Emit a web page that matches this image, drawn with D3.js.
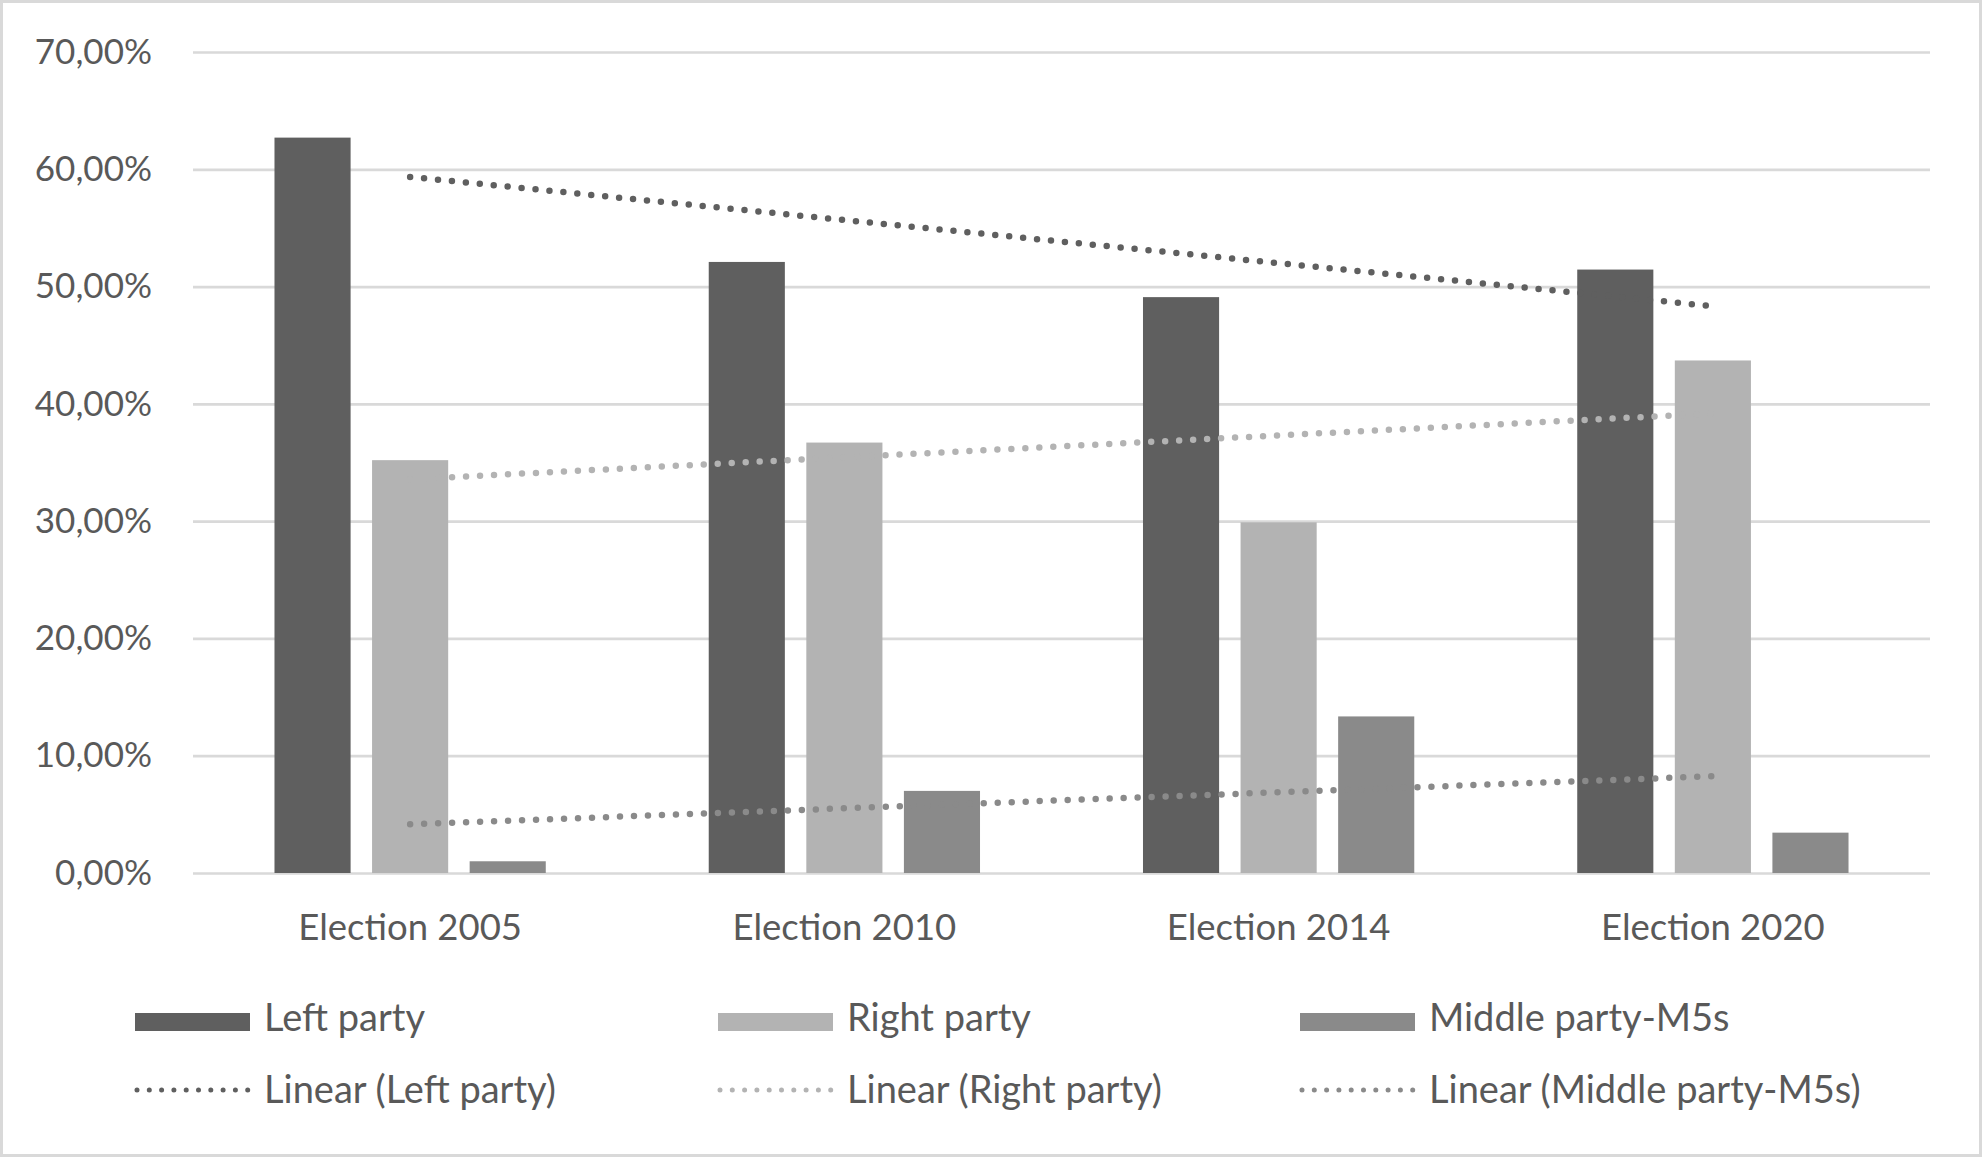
<!DOCTYPE html>
<html>
<head>
<meta charset="utf-8">
<script src="https://cdn.jsdelivr.net/npm/d3@7"></script>
<style>
  html, body { margin: 0; padding: 0; background: #fff; overflow: hidden; }
  svg { display: block; }
  svg text { font-family: Lato, "Open Sans", sans-serif; fill: #595959; }
</style>
</head>
<body>
<svg id="chart" width="1982" height="1157"></svg>
<script>
// Data (percent)
const categories = ["Election 2005", "Election 2010", "Election 2014", "Election 2020"];
const seriesNames = ["Left party", "Right party", "Middle party-M5s"];
const leftParty = [62.7, 52.1, 49.1, 51.45];
const rightParty = [35.2, 36.7, 29.9, 43.7];
const middleParty = [1.0, 7.0, 13.35, 3.44];
const yTicks = [0, 10, 20, 30, 40, 50, 60, 70];
const colors = ["#5f5f5f", "#b3b3b3", "#8a8a8a"];

const seriesValues = [leftParty, rightParty, middleParty];

// Global dimensions
var margin = {top: 52, left: 193, right: 52, bottom: 284},
    width = 1982, height = 1157,
    innerWidth = width - margin.left - margin.right,
    innerHeight = height - margin.top - margin.bottom;

const svg = d3.select("#chart");

// Outer border
svg.append("rect")
  .attr("x", 1.5).attr("y", 1.5)
  .attr("width", width - 3).attr("height", height - 3)
  .attr("fill", "#fff").attr("stroke", "#d9d9d9").attr("stroke-width", 3);

const g = svg.append("g").attr("transform", `translate(${margin.left},${margin.top})`);

// Scales
const x0 = d3.scaleBand().domain(categories).range([0, innerWidth]);
const x1 = d3.scaleBand().domain(seriesNames).range([0, x0.bandwidth()])
  .paddingInner(0.22).paddingOuter(0.835);
const y = d3.scaleLinear().domain([0, 70]).range([innerHeight, 0]);

// Comma-decimal percent format
const locale = d3.formatLocale({decimal: ",", thousands: ".", grouping: [3], currency: ["", "€"]});
const pct = locale.format(".2%");

// Y axis with gridlines
const yAxis = d3.axisLeft(y).tickValues(yTicks)
  .tickSize(-innerWidth).tickPadding(41)
  .tickFormat(d => pct(d / 100));
g.append("g").attr("class", "y-axis").call(yAxis)
  .call(s => s.select(".domain").remove())
  .call(s => s.selectAll(".tick line").attr("stroke", "#d9d9d9").attr("stroke-width", 2.7))
  .call(s => s.selectAll(".tick text").attr("font-size", 35).attr("fill", "#595959"));

// X axis labels
const xAxis = d3.axisBottom(x0).tickSize(0).tickPadding(41);
g.append("g").attr("class", "x-axis").attr("transform", `translate(0,${innerHeight})`).call(xAxis)
  .call(s => s.select(".domain").remove())
  .call(s => s.selectAll(".tick text").attr("font-size", 36.5).attr("fill", "#595959"));

// Bars
const groups = g.selectAll(".cat").data(categories).join("g")
  .attr("class", "cat")
  .attr("transform", d => `translate(${x0(d)},0)`);
groups.selectAll("rect")
  .data((c, i) => seriesNames.map((s, j) => ({s, j, v: seriesValues[j][i]})))
  .join("rect")
  .attr("x", d => x1(d.s))
  .attr("width", x1.bandwidth())
  .attr("y", d => y(d.v))
  .attr("height", d => y(0) - y(d.v))
  .attr("fill", d => colors[d.j]);

// Linear trendlines (least squares over category index)
function linearFit(vals) {
  const xs = vals.map((v, i) => i + 1);
  const mx = d3.mean(xs), my = d3.mean(vals);
  const slope = d3.sum(xs, (xv, i) => (xv - mx) * (vals[i] - my)) / d3.sum(xs, xv => (xv - mx) ** 2);
  return xv => my + slope * (xv - mx);
}
const cx = c => x0(c) + x0.bandwidth() / 2;
seriesValues.forEach((vals, j) => {
  const f = linearFit(vals);
  const first = categories[0], last = categories[categories.length - 1];
  g.append("line")
    .attr("x1", cx(first)).attr("y1", y(f(1)))
    .attr("x2", cx(last)).attr("y2", y(f(categories.length)))
    .attr("stroke", colors[j]).attr("stroke-width", 6.5)
    .attr("stroke-linecap", "round").attr("stroke-dasharray", "0,14");
});

// Legend
const legendX = [135, 718, 1300];
const legend = svg.append("g").attr("class", "legend");
seriesNames.forEach((name, j) => {
  legend.append("rect")
    .attr("x", legendX[j]).attr("y", 1013)
    .attr("width", 115).attr("height", 18)
    .attr("fill", colors[j]);
  legend.append("text")
    .attr("x", legendX[j] + 129).attr("y", 1031)
    .attr("font-size", 38).text(name);
  legend.append("line")
    .attr("x1", legendX[j] + 2).attr("x2", legendX[j] + 113)
    .attr("y1", 1090).attr("y2", 1090)
    .attr("stroke", colors[j]).attr("stroke-width", 5)
    .attr("stroke-linecap", "round").attr("stroke-dasharray", "0,12.3");
  legend.append("text")
    .attr("x", legendX[j] + 129).attr("y", 1103)
    .attr("font-size", 38).text(`Linear (${name})`);
});
</script>
</body>
</html>
